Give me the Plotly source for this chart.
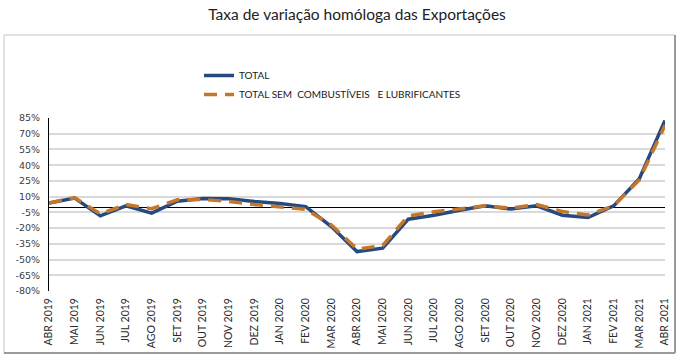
import plotly.graph_objects as go

months = ["ABR 2019", "MAI 2019", "JUN 2019", "JUL 2019", "AGO 2019", "SET 2019",
          "OUT 2019", "NOV 2019", "DEZ 2019", "JAN 2020", "FEV 2020", "MAR 2020",
          "ABR 2020", "MAI 2020", "JUN 2020", "JUL 2020", "AGO 2020", "SET 2020",
          "OUT 2020", "NOV 2020", "DEZ 2020", "JAN 2021", "FEV 2021", "MAR 2021",
          "ABR 2021"]
total = [3.8, 8.6, -8.3, 1.2, -5.8, 5.7, 8.3, 8.0, 5.4, 3.5, 0.5, -18.5,
         -42.4, -39.2, -11.5, -7.7, -2.9, 1.2, -1.9, 1.2, -7.7, -9.9, 1.2, 27.0,
         82.7]
total_sem = [4.0, 9.0, -6.5, 2.5, -1.5, 7.0, 7.3, 5.4, 2.5, 0.6, -2.0, -17.0,
             -40.0, -36.6, -8.3, -4.5, -1.6, 1.2, -1.0, 2.5, -4.2, -7.4, 1.2, 26.0,
             78.0]
y_ticks = [85, 70, 55, 40, 25, 10, -5, -20, -35, -50, -65, -80]
y_labels = [f"{v}%" for v in y_ticks]

W, H = 680, 358
L, R, T, B = 49, 15, 118, 67
pw, ph = W - L - R, H - T - B

def px(x):
    return (x - L) / pw

def py(y):
    return (H - B - y) / ph

fig = go.Figure()
fig.add_trace(go.Scatter(
    x=months, y=total, name="TOTAL", mode="lines",
    line=dict(color="#264A80", width=3.5)))
fig.add_trace(go.Scatter(
    x=months, y=total_sem, name="TOTAL SEM  COMBUSTÍVEIS   E LUBRIFICANTES", mode="lines",
    line=dict(color="#C4772A", width=3.5, dash="13px,8px")))

shapes = [
    dict(type="line", xref="paper", yref="paper", x0=px(4), x1=px(675), y0=py(35), y1=py(35),
         line=dict(color="#d9d9d9", width=1.5)),
    dict(type="line", xref="paper", yref="paper", x0=px(4), x1=px(4), y0=py(35), y1=py(353),
         line=dict(color="#d9d9d9", width=1.5)),
    dict(type="line", xref="paper", yref="paper", x0=px(675), x1=px(675), y0=py(35), y1=py(353),
         line=dict(color="#9a9a9a", width=2)),
    dict(type="line", xref="paper", yref="paper", x0=px(4), x1=px(675), y0=py(353), y1=py(353),
         line=dict(color="#9a9a9a", width=2)),
]

fig.update_layout(
    width=W, height=H,
    margin=dict(l=L, r=R, t=T, b=B, autoexpand=False),
    paper_bgcolor="white", plot_bgcolor="white",
    font=dict(family="Lato", color="#333333"),
    title=dict(text="Taxa de variação homóloga das Exportações",
               x=0.5, xref="paper", xanchor="center",
               y=1 - 15 / H, yref="container", yanchor="middle",
               font=dict(family="Lato", size=15.5, color="#222222")),
    showlegend=True,
    legend=dict(x=px(199), y=py(61), xanchor="left", yanchor="top",
                bgcolor="rgba(0,0,0,0)", font=dict(family="Lato", size=10, color="#1a1a1a"),
                itemwidth=30, tracegroupgap=0),
    xaxis=dict(
        type="category", range=[0, len(months) - 1], automargin=False,
        tickangle=-90, tickfont=dict(family="Lato", size=10.5, color="#2a2a2a"),
        ticklabelstandoff=4,
        showgrid=False, showline=False, ticks="", zeroline=False),
    yaxis=dict(
        range=[-80, 85], tickmode="array", tickvals=y_ticks, ticktext=y_labels,
        automargin=False, ticklabelstandoff=6,
        tickfont=dict(family="DejaVu Sans", size=9.5, color="#404040"),
        showgrid=True, gridcolor="#d9d9d9", gridwidth=1.5,
        zeroline=True, zerolinecolor="#000000", zerolinewidth=1,
        showline=True, linecolor="#000000", linewidth=1, ticks=""),
    shapes=shapes,
)

fig.write_html("out.html", config={"displayModeBar": False},
               post_script="document.body.style.margin='0';document.body.style.overflow='hidden';")
